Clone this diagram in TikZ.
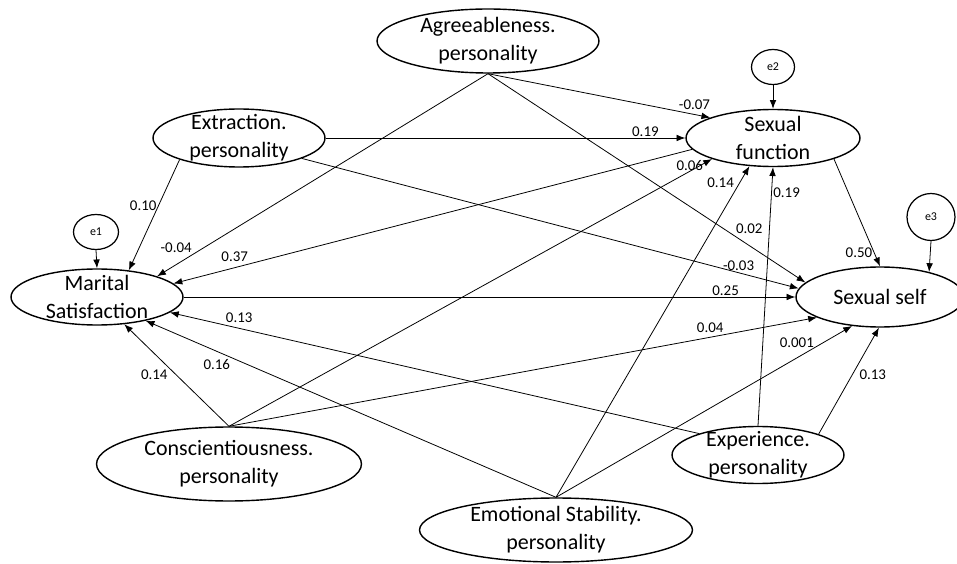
\documentclass[tikz,border=0pt]{standalone}
\usepackage{fontspec}
\setmainfont{Carlito}
\usetikzlibrary{shapes.geometric, arrows.meta}
\tikzstyle{arrow} = [line width=0.45pt, -{Latex[length=5pt,width=3.8pt]}]

\begin{document}
\begin{tikzpicture}[x=0.02cm, y=-0.02cm,
    latent/.style={ellipse, draw=black, line width=0.8pt, inner xsep=0pt, inner ysep=-4pt, align=center, font=\fontsize{12.5}{16}\selectfont},
    err/.style={ellipse, draw=black, line width=0.7pt, inner sep=0pt, font=\fontsize{6.8}{8}\selectfont},
    coef/.style={font=\fontsize{8.5}{10}\selectfont, inner sep=0.8pt}]

    \useasboundingbox (0,0) rectangle (957,564);

    % Personality traits
    \node[latent, minimum width=4.44cm, minimum height=1.28cm] (agree) at (488,41) {Agreeableness.\\personality};
    \node[latent, minimum width=3.44cm, minimum height=1.16cm] (extra) at (239,138) {Extraction.\\personality};
    \node[latent, minimum width=5.3cm, minimum height=1.48cm] (consc) at (229,464) {Conscientiousness.\\personality};
    \node[latent, minimum width=5.46cm, minimum height=1.28cm] (emot) at (556,530) {Emotional Stability.\\personality};
    \node[latent, minimum width=3.44cm, minimum height=1.14cm] (exper) at (758,455) {Experience.\\personality};

    % Outcomes
    \node[latent, minimum width=3.44cm, minimum height=1.12cm] (marital) at (97,297) {Marital\\Satisfaction};
    \node[latent, minimum width=3.48cm, minimum height=1.14cm] (sfunc) at (773,138) {Sexual\\function};
    \node[latent, minimum width=3.36cm, minimum height=1.2cm] (sself) at (880,297) {Sexual self};

    % Error terms
    \node[err, minimum width=0.9cm, minimum height=0.7cm] (e1) at (96,232) {e1};
    \node[err, minimum width=0.86cm, minimum height=0.7cm] (e2) at (773,67) {e2};
    \node[err, minimum width=0.96cm, minimum height=0.94cm] (e3) at (931,217) {e3};

    \draw[arrow] (e1.south) -- (marital.north);
    \draw[arrow] (e2.south) -- (sfunc.north);
    \draw[arrow] (e3.south) -- (sself.27);

    % Agreeableness paths
    \draw[arrow] (agree.south) -- (marital.19) node[coef, pos=0.89, anchor=south east] {-0.04};
    \draw[arrow] (agree.south) -- (sfunc.162) node[coef, pos=0.851, anchor=south west] {-0.07};
    \draw[arrow] (agree.south) -- (sself.169) node[coef, pos=0.776, anchor=south west] {0.02};

    % Extraction paths
    \draw[arrow] (extra.200) -- (marital.40) node[coef, pos=0.42, anchor=east] {0.10};
    \draw[arrow] (extra.east) -- (sfunc.west) node[coef, pos=0.889, above] {0.19};
    \draw[arrow] (extra.-18) -- (sself.174) node[coef, pos=0.879, above] {-0.03};

    % Conscientiousness paths
    \draw[arrow] (consc.north) -- (marital.-45) node[coef, pos=0.57, anchor=north east] {0.14};
    \draw[arrow] (consc.north) -- (sfunc.199) node[coef, pos=0.954, anchor=south, inner sep=0pt] {0.06};
    \draw[arrow] (consc.north) -- (sself.198) node[coef, pos=0.844, anchor=south east] {0.04};

    % Emotional stability paths
    \draw[arrow] (emot.north) -- (marital.-26) node[coef, pos=0.79, anchor=north east] {0.16};
    \draw[arrow] (emot.north) -- (sfunc.230) node[coef, pos=0.929, anchor=south east] {0.14};
    \draw[arrow] (emot.north) -- (sself.226) node[coef, pos=0.877, anchor=south east, yshift=-1.5pt] {0.001};

    % Experience paths
    \draw[arrow] (exper.160) -- (marital.-12) node[coef, pos=0.8975, anchor=south west] {0.13};
    \draw[arrow] (exper.north) -- (sfunc.south) node[coef, pos=0.903, anchor=west] {0.19};
    \draw[arrow] (exper.19) -- (sself.268) node[coef, pos=0.62, anchor=north west, xshift=1pt] {0.13};

    % Between outcomes
    \draw[arrow] (marital.east) -- (sself.west) node[coef, pos=0.886, above] {0.25};
    \draw[arrow] (sfunc.188) -- (marital.10) node[coef, pos=0.853, anchor=south east] {0.37};
    \draw[arrow] (sfunc.-19) -- (sself.north) node[coef, pos=0.87, anchor=east] {0.50};
\end{tikzpicture}
\end{document}
